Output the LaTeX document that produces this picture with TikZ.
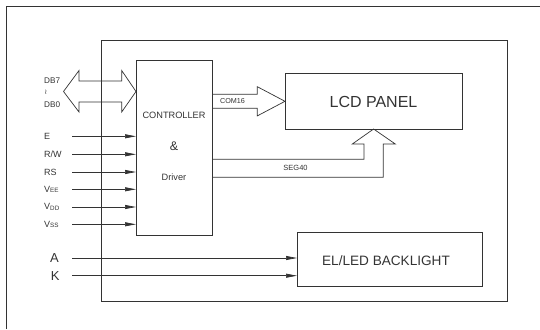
\documentclass[tikz,border=0pt]{standalone}
\usepackage{fontspec}
\setmainfont{Liberation Sans}
\newfontfamily\dejavu{DejaVu Sans}
\usetikzlibrary{arrows.meta}
\definecolor{ink}{HTML}{333333}
\newcommand{\fs}[1]{\fontsize{#1}{#1}\selectfont}
\newcommand{\vsub}[1]{V{\fs{6.3}\raisebox{-0.6pt}{#1}}}
\begin{document}
\begin{tikzpicture}[x=1pt,y=-1pt,
  box/.style={draw=ink, line width=0.8pt, inner sep=0pt, outer sep=0pt, anchor=north west},
  sig/.style={draw=ink, line width=0.7pt, -{Triangle[length=11pt,width=4pt]}},
  fat/.style={draw=ink, line width=0.7pt, line join=miter},
  lbl/.style={text=ink, inner sep=0pt, anchor=west, font=\fs{9}},
  txt/.style={text=ink, inner sep=0pt}]
\useasboundingbox (0,0) rectangle (540,329);
% outer frame (left and top only)
\draw[draw=ink, line width=0.9pt] (6,329) -- (6,6) -- (540,6);
% inner frame
\node[box, minimum width=406pt, minimum height=261.5pt] (frame) at (101,40) {};
% blocks
\node[box, minimum width=76pt, minimum height=175.5pt] (ctrl) at (136,60) {};
\node[box, minimum width=177pt, minimum height=55.3pt] (lcd) at (285,73.7) {};
\node[box, minimum width=185.4pt, minimum height=54.4pt] (bl) at (297,232.3) {};
% block texts
\node[txt, font=\fs{9.2}] (tctrl) at (174,115) {CONTROLLER};
\node[txt, font=\fs{12.5}] (tamp) at (174,146.5) {\&};
\node[txt, font=\fs{9.2}] (tdrv) at (174,177) {Driver};
\node[txt, font=\fs{16}] (tlcd) at (373.5,101.5) {LCD PANEL};
\node[txt, font=\fs{13.6}] (tbl) at (386,261) {EL/LED BACKLIGHT};
% DB bus double arrow
\draw[fat] (63.5,91.5) -- (79,70.5) -- (79,81) -- (121.7,81) -- (121.7,70.5)
  -- (ctrl.west |- 0,91.5) -- (121.7,112) -- (121.7,102) -- (79,102) -- (79,112) -- cycle;
\node[lbl, font=\fs{8.2}] (db7) at (44,80.7) {DB7};
\node[txt, font=\dejavu\fs{7}] (dbsep) at (46,92.3) {≀};
\node[lbl, font=\fs{8.2}] (db0) at (44,104.3) {DB0};
% control signals
\foreach \n/\y/\t in {e/136.3/E, rw/154.3/{R/W}, rs/172/RS, vee/189.3/\vsub{EE}, vdd/207/\vsub{DD}, vss/224.3/\vsub{SS}}{
  \node[lbl] (l\n) at (44,\y) {\t};
  \coordinate (s\n) at (72,\y);
  \draw[sig] (s\n) -- (s\n -| ctrl.west);
}
% backlight pins
\node[txt, font=\fs{13}] (la) at (54.5,258) {A};
\node[txt, font=\fs{13}] (lk) at (55.3,275.7) {K};
\coordinate (sa) at (72,258);
\coordinate (sk) at (72,275.7);
\draw[sig] (sa) -- (sa -| bl.west);
\draw[sig] (sk) -- (sk -| bl.west);
% COM16 arrow
\draw[fat] (ctrl.east |- 0,94.3) -- (257.3,94.3) -- (257.3,86.7) -- (lcd.west |- 0,101.3)
  -- (257.3,115.9) -- (257.3,108.3) -- (ctrl.east |- 0,108.3);
\node[txt, font=\fs{7.2}] (tcom) at (232.5,101.3) {COM16};
% SEG40 arrow
\draw[fat] (ctrl.east |- 0,159.3) -- (364,159.3) -- (364,144) -- (352.3,144)
  -- (373.6,129) -- (395.3,144) -- (383.3,144) -- (383.3,177.3) -- (ctrl.east |- 0,177.3);
\node[txt, font=\fs{7.5}] (tseg) at (295.5,168.3) {SEG40};
\end{tikzpicture}
\end{document}
